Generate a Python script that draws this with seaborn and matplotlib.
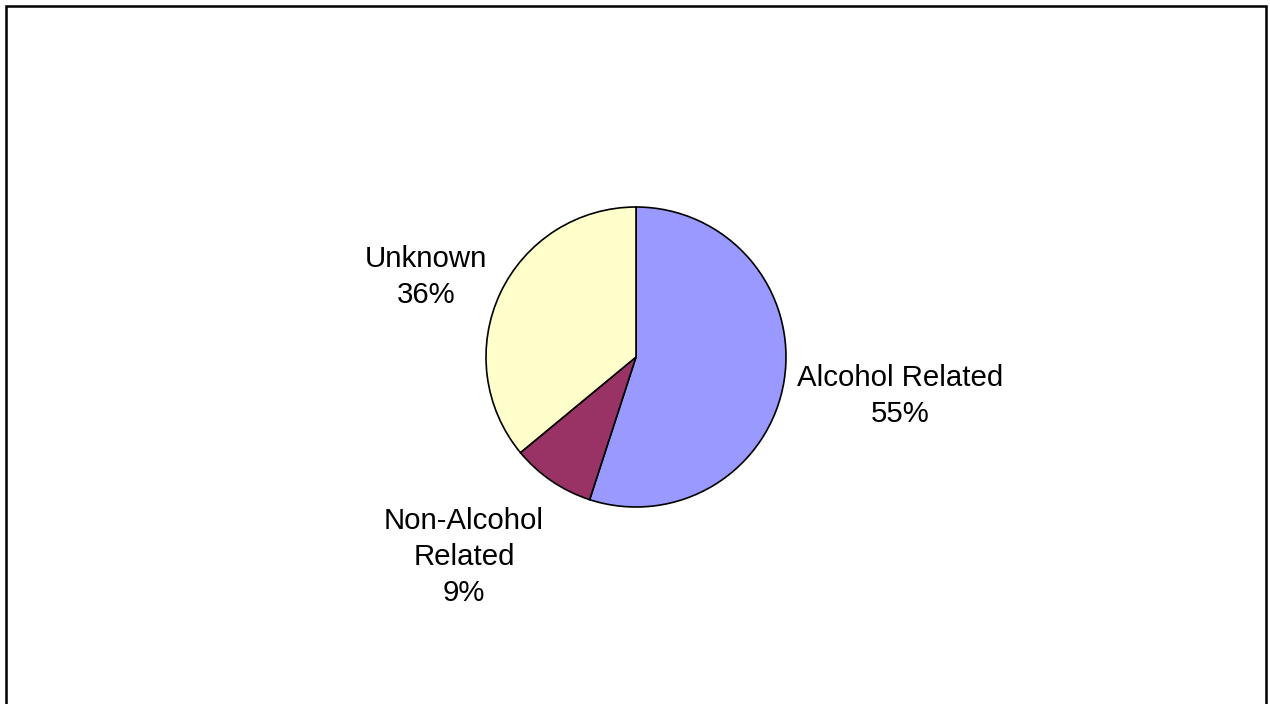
import matplotlib
matplotlib.use("Agg")
import matplotlib.pyplot as plt
import seaborn as sns
import numpy as np
from matplotlib.patches import Rectangle

categories = ["Alcohol Related", "Non-Alcohol\nRelated", "Unknown"]
values = [55, 9, 36]
colors = ["#9999FF", "#993366", "#FFFFCC"]

sns.set_style("white")
plt.rcParams['font.family'] = ['Liberation Sans', 'DejaVu Sans']

W, H, DPI = 1270, 704, 100
fig = plt.figure(figsize=(W / DPI, H / DPI), dpi=DPI)
ax = fig.add_axes([0, 0, 1, 1])

cx, cy, R = 636, H - 357, 150
wedges, _ = ax.pie(values, colors=colors, startangle=90, counterclock=False,
                   center=(cx, cy), radius=R,
                   wedgeprops=dict(edgecolor="black", linewidth=1.2),
                   frame=False)
ax.set_xlim(0, W)
ax.set_ylim(0, H)
ax.set_aspect("auto")
ax.axis("off")

# label offsets (in radius units) relative to pie centre
offsets = [(1.76, -0.26), (-1.147, -1.333), (-1.40, 0.533)]
for cat, val, (dx, dy) in zip(categories, values, offsets):
    ax.text(cx + dx * R, cy + dy * R, f"{cat}\n{val}%", ha="center", va="center",
            fontsize=21.2, color="black", linespacing=1.36)

# outer border (left, top, right; bottom cut off)
fig.patches.append(Rectangle((5.5 / W, -0.05), (1265.5 - 5.5) / W, (H - 5.5) / H + 0.05,
                             transform=fig.transFigure, fill=False,
                             edgecolor="black", linewidth=1.8))

fig.savefig("out.png", dpi=DPI)
